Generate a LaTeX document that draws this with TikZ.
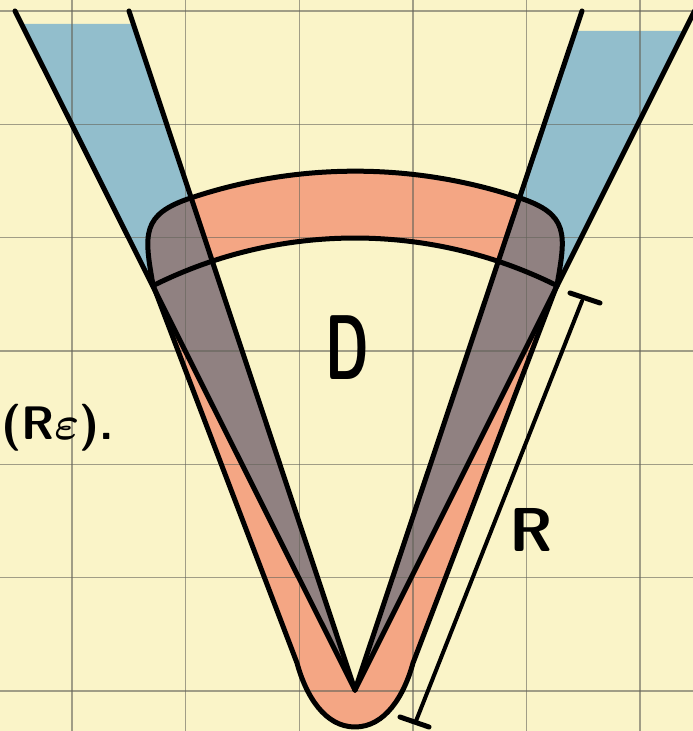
\RequirePackage{fix-cm}
\documentclass[tikz,border=0pt]{standalone}
\usepackage{amsmath,amssymb}
\usepackage{fontspec}
\usepackage{graphicx}
\usepackage{tikz}

\definecolor{paper}{RGB}{250,244,200}
\definecolor{gridc}{RGB}{100,100,90}
\definecolor{coneblue}{RGB}{146,190,204}
\definecolor{nbhd}{RGB}{244,166,132}
\definecolor{overlap}{RGB}{144,129,129}

\begin{document}
\begin{tikzpicture}[x=1pt,y=1pt,line cap=round,line join=round]
\clip (0,0) rectangle (693,731);
\fill[paper] (0,0) rectangle (693,731);
\coordinate (A) at (355,41);
% cone, blue part
\fill[coneblue] (A) -- (22,707) -- (133,707) -- cycle;
\fill[coneblue] (A) -- (575,700) -- (684,700) -- cycle;
% neighbourhood of D
\path[save path=\Npath] (153,446) -- (297,68)
  .. controls (306,35) and (325,4) .. (355,4)
  .. controls (385,4) and (404,35) .. (413,68) -- (557,446)
  to[out=80,in=-18.5,looseness=1.4] (520,533)
  arc[start angle=71.5,end angle=108.5,radius=519]
  to[out=198.5,in=100,looseness=1.4] (153,446) -- cycle;
\fill[nbhd,use path=\Npath];
\fill[paper] (A) -- ++(116.57:452) arc[start angle=116.57,end angle=63.43,radius=452] -- cycle;
\begin{scope}
\clip[use path=\Npath];
\fill[overlap] (A) -- (15,720) -- (129,720) -- cycle;
\fill[overlap] (A) -- (582,720) -- (694.5,720) -- cycle;
\end{scope}
% grid paper
\foreach \x in {0,...,5}
  \draw[gridc,opacity=0.6,line width=1.4pt] ({72+113.6*\x},0) -- ({72+113.6*\x},731);
\foreach \y in {0,...,6}
  \draw[gridc,opacity=0.6,line width=1.4pt] (0,{40+113.3*\y}) -- (693,{40+113.3*\y});
% strokes
\begin{scope}[line width=5pt]
\draw[use path=\Npath];
\draw (A) ++(116.57:452) arc[start angle=116.57,end angle=63.43,radius=452];
\foreach \e in {(15,720),(129,720),(582,720),(694.5,720)}
  \draw (A) -- \e;
\end{scope}
\coordinate (Rtop) at (582,430);
\coordinate (Rbot) at (416,10);
\draw[line width=4pt] (Rtop) -- (Rbot);
\draw[line width=5pt] (570,438) -- (600,428);
\draw[line width=5pt] (400,14) -- (429,4);
% labels
\node[font=\sffamily\bfseries\fontsize{92}{92}\selectfont] (D) at (347,383) {\scalebox{0.6}[1]{D}};
\node[font=\sffamily\bfseries\fontsize{62}{62}\selectfont] (Rlab) at (531,201) {R};
\node[font=\sffamily\bfseries\fontsize{47}{47}\selectfont,anchor=west,inner sep=0pt] (Reps) at (1,303) {(R$\boldsymbol{\varepsilon}$).};
\end{tikzpicture}
\end{document}
